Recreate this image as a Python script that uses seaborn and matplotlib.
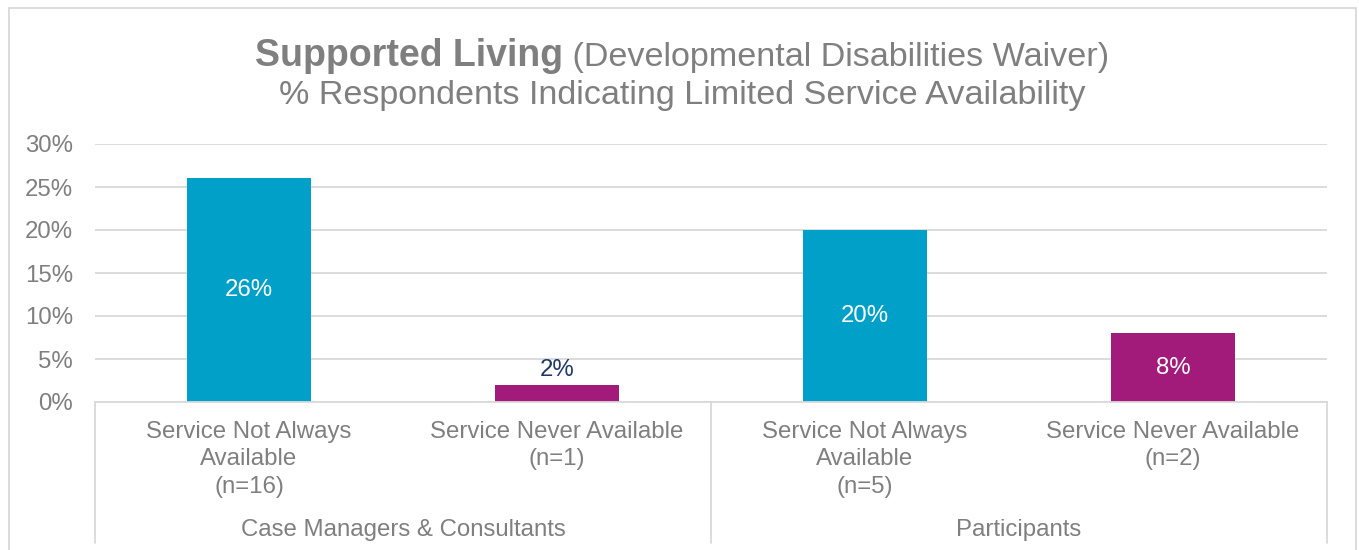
import matplotlib
matplotlib.use("Agg")
import matplotlib.pyplot as plt
import matplotlib.transforms as mtransforms
from matplotlib.patches import Rectangle
import seaborn as sns
import pandas as pd

sns.set_theme(style="white")
plt.rcParams["font.family"] = ["Liberation Sans", "DejaVu Sans"]

# ── data ──────────────────────────────────────────────────────────────────────
GROUPS = ["Case Managers & Consultants", "Participants"]
CATEGORIES = [
    "Service Not Always\nAvailable\n(n=16)",
    "Service Never Available\n(n=1)",
    "Service Not Always\nAvailable\n(n=5)",
    "Service Never Available\n(n=2)",
]
GROUP_OF = ["Case Managers & Consultants", "Case Managers & Consultants",
            "Participants", "Participants"]
KIND = ["Not Always", "Never", "Not Always", "Never"]
VALUES = [0.26, 0.02, 0.20, 0.08]
Y_TICKS = [0.0, 0.05, 0.10, 0.15, 0.20, 0.25, 0.30]

BLUE = "#00A0C9"
PURPLE = "#A21A7A"
NAVY = "#1F3864"
GREY_TXT = "#7F7F7F"
GRID = "#D9D9D9"
FS = 17.3

df = pd.DataFrame({"cat": CATEGORIES, "value": VALUES,
                   "group": GROUP_OF, "kind": KIND})

fig = plt.figure(figsize=(13.59, 5.5), dpi=100)
ax = fig.add_axes([95 / 1359, 1 - 402 / 550, (1327 - 95) / 1359, (402 - 144) / 550])

sns.barplot(data=df, x="cat", y="value", hue="kind",
            palette={"Not Always": BLUE, "Never": PURPLE},
            width=0.4, dodge=False, legend=False, ax=ax,
            saturation=1, edgecolor="none")

ax.set_ylim(0, 0.30)
ax.set_xlim(-0.5, len(CATEGORIES) - 0.5)
ax.set_yticks(Y_TICKS)
ax.set_yticklabels([f"{int(round(t * 100))}%" for t in Y_TICKS],
                   fontsize=FS, color=GREY_TXT)
ax.tick_params(axis="y", length=0, pad=15.8)
ax.tick_params(axis="x", length=0, pad=13.5)
ax.set_xticks(range(len(CATEGORIES)))
ax.set_xticklabels(CATEGORIES, fontsize=FS, color=GREY_TXT, linespacing=1.32)
ax.set_xlabel("")
ax.set_ylabel("")
ax.yaxis.grid(True, color=GRID, linewidth=1.3)
ax.set_axisbelow(True)
for s in ["top", "right", "left"]:
    ax.spines[s].set_visible(False)
ax.spines["bottom"].set_color(GRID)
ax.spines["bottom"].set_linewidth(1.3)

# data labels
for i, v in enumerate(VALUES):
    txt = f"{int(round(v * 100))}%"
    if v < 0.05:
        ax.annotate(txt, (i, v), xytext=(0, 3), textcoords="offset points",
                    ha="center", va="bottom", fontsize=FS, color=NAVY)
    else:
        ax.text(i, v / 2, txt, ha="center", va="center",
                fontsize=FS, color="white")

# group separators and group labels
trans = mtransforms.blended_transform_factory(ax.transData, ax.transAxes)
n_per = len(CATEGORIES) // len(GROUPS)
for g in range(len(GROUPS) + 1):
    xs = g * n_per - 0.5
    ax.plot([xs, xs], [0, -0.547], color=GRID, linewidth=1.3,
            transform=trans, clip_on=False)
for g, name in enumerate(GROUPS):
    xc = g * n_per + (n_per - 1) / 2
    ax.text(xc, -0.495, name, transform=trans, ha="center", va="center",
            fontsize=FS, color=GREY_TXT)

# title: bold part + regular part on first line
fig.canvas.draw()
r = fig.canvas.get_renderer()
t1 = fig.text(0, 1 - 66 / 550, "Supported Living", fontsize=27,
              fontweight="bold", color=GREY_TXT, va="baseline", ha="left")
t2 = fig.text(0, 1 - 66 / 550, " (Developmental Disabilities Waiver)",
              fontsize=24.6, color=GREY_TXT, va="baseline", ha="left")
w1 = t1.get_window_extent(r).width / fig.bbox.width
w2 = t2.get_window_extent(r).width / fig.bbox.width
x0 = 0.502 - (w1 + w2) / 2
t1.set_x(x0)
t2.set_x(x0 + w1)
fig.text(0.502, 1 - 104 / 550, "% Respondents Indicating Limited Service Availability",
         fontsize=24.6, color=GREY_TXT, va="baseline", ha="center")

# outer chart frame
fig.add_artist(Rectangle((9 / 1359, -0.02), (1356 - 9) / 1359, 1 - 8 / 550 + 0.02,
                         transform=fig.transFigure, fill=False,
                         edgecolor=GRID, linewidth=1.3))

fig.savefig("out.png", dpi=100)
